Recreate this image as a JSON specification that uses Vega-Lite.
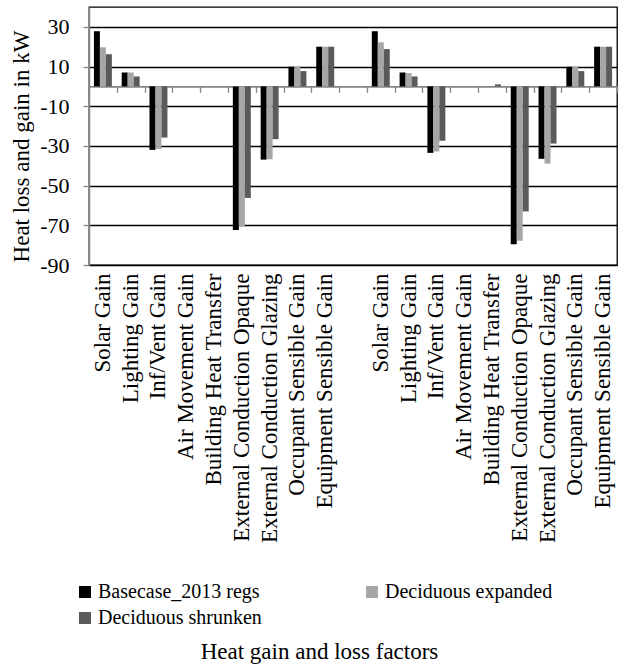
{
  "$schema": "https://vega.github.io/schema/vega-lite/v6.json",
  "autosize": {"type": "none"},
  "padding": {"left": 89, "top": 7, "right": 4, "bottom": 402},
  "width": 528,
  "height": 258,
  "background": "white",
  "config": {
    "font": "Times New Roman",
    "axis": {"labelFont": "Times New Roman", "titleFont": "Times New Roman"},
    "legend": {"labelFont": "Times New Roman", "titleFont": "Times New Roman"},
    "view": {"stroke": "black", "strokeWidth": 1.3}
  },
  "data": {
    "values": [
      {"slot": "a:Solar Gain", "series": "Basecase_2013 regs", "value": 27.8},
      {"slot": "a:Solar Gain", "series": "Deciduous expanded", "value": 19.7},
      {"slot": "a:Solar Gain", "series": "Deciduous shrunken", "value": 16.2},
      {"slot": "a:Lighting Gain", "series": "Basecase_2013 regs", "value": 7},
      {"slot": "a:Lighting Gain", "series": "Deciduous expanded", "value": 7},
      {"slot": "a:Lighting Gain", "series": "Deciduous shrunken", "value": 5},
      {"slot": "a:Inf/Vent Gain", "series": "Basecase_2013 regs", "value": -32},
      {"slot": "a:Inf/Vent Gain", "series": "Deciduous expanded", "value": -31.5},
      {"slot": "a:Inf/Vent Gain", "series": "Deciduous shrunken", "value": -25.8},
      {"slot": "a:Air Movement Gain", "series": "Basecase_2013 regs", "value": 0},
      {"slot": "a:Air Movement Gain", "series": "Deciduous expanded", "value": 0},
      {"slot": "a:Air Movement Gain", "series": "Deciduous shrunken", "value": 0},
      {"slot": "a:Building Heat Transfer", "series": "Basecase_2013 regs", "value": 0},
      {"slot": "a:Building Heat Transfer", "series": "Deciduous expanded", "value": 0},
      {"slot": "a:Building Heat Transfer", "series": "Deciduous shrunken", "value": 0},
      {"slot": "a:External Conduction Opaque", "series": "Basecase_2013 regs", "value": -72.4},
      {"slot": "a:External Conduction Opaque", "series": "Deciduous expanded", "value": -70.5},
      {"slot": "a:External Conduction Opaque", "series": "Deciduous shrunken", "value": -56.2},
      {"slot": "a:External Conduction Glazing", "series": "Basecase_2013 regs", "value": -36.9},
      {"slot": "a:External Conduction Glazing", "series": "Deciduous expanded", "value": -36.7},
      {"slot": "a:External Conduction Glazing", "series": "Deciduous shrunken", "value": -26.6},
      {"slot": "a:Occupant Sensible Gain", "series": "Basecase_2013 regs", "value": 9.9},
      {"slot": "a:Occupant Sensible Gain", "series": "Deciduous expanded", "value": 10},
      {"slot": "a:Occupant Sensible Gain", "series": "Deciduous shrunken", "value": 7.7},
      {"slot": "a:Equipment Sensible Gain", "series": "Basecase_2013 regs", "value": 20},
      {"slot": "a:Equipment Sensible Gain", "series": "Deciduous expanded", "value": 20},
      {"slot": "a:Equipment Sensible Gain", "series": "Deciduous shrunken", "value": 20},
      {"slot": "b:Solar Gain", "series": "Basecase_2013 regs", "value": 27.8},
      {"slot": "b:Solar Gain", "series": "Deciduous expanded", "value": 22.2},
      {"slot": "b:Solar Gain", "series": "Deciduous shrunken", "value": 18.8},
      {"slot": "b:Lighting Gain", "series": "Basecase_2013 regs", "value": 7},
      {"slot": "b:Lighting Gain", "series": "Deciduous expanded", "value": 6.7},
      {"slot": "b:Lighting Gain", "series": "Deciduous shrunken", "value": 5},
      {"slot": "b:Inf/Vent Gain", "series": "Basecase_2013 regs", "value": -33.5},
      {"slot": "b:Inf/Vent Gain", "series": "Deciduous expanded", "value": -32.8},
      {"slot": "b:Inf/Vent Gain", "series": "Deciduous shrunken", "value": -27.4},
      {"slot": "b:Air Movement Gain", "series": "Basecase_2013 regs", "value": 0},
      {"slot": "b:Air Movement Gain", "series": "Deciduous expanded", "value": 0},
      {"slot": "b:Air Movement Gain", "series": "Deciduous shrunken", "value": 0},
      {"slot": "b:Building Heat Transfer", "series": "Basecase_2013 regs", "value": 0},
      {"slot": "b:Building Heat Transfer", "series": "Deciduous expanded", "value": 0},
      {"slot": "b:Building Heat Transfer", "series": "Deciduous shrunken", "value": 1},
      {"slot": "b:External Conduction Opaque", "series": "Basecase_2013 regs", "value": -79.5},
      {"slot": "b:External Conduction Opaque", "series": "Deciduous expanded", "value": -77.8},
      {"slot": "b:External Conduction Opaque", "series": "Deciduous shrunken", "value": -63},
      {"slot": "b:External Conduction Glazing", "series": "Basecase_2013 regs", "value": -36.5},
      {"slot": "b:External Conduction Glazing", "series": "Deciduous expanded", "value": -38.9},
      {"slot": "b:External Conduction Glazing", "series": "Deciduous shrunken", "value": -28.8},
      {"slot": "b:Occupant Sensible Gain", "series": "Basecase_2013 regs", "value": 9.9},
      {"slot": "b:Occupant Sensible Gain", "series": "Deciduous expanded", "value": 10},
      {"slot": "b:Occupant Sensible Gain", "series": "Deciduous shrunken", "value": 7.7},
      {"slot": "b:Equipment Sensible Gain", "series": "Basecase_2013 regs", "value": 20},
      {"slot": "b:Equipment Sensible Gain", "series": "Deciduous expanded", "value": 20},
      {"slot": "b:Equipment Sensible Gain", "series": "Deciduous shrunken", "value": 20}
    ]
  },
  "resolve": {"axis": {"x": "independent"}},
  "layer": [
    {
      "mark": {"type": "bar"},
      "encoding": {
        "x": {
          "field": "slot",
          "type": "nominal",
          "sort": null,
          "scale": {
            "domain": ["a:Solar Gain", "a:Lighting Gain", "a:Inf/Vent Gain", "a:Air Movement Gain", "a:Building Heat Transfer", "a:External Conduction Opaque", "a:External Conduction Glazing", "a:Occupant Sensible Gain", "a:Equipment Sensible Gain", "gap:", "b:Solar Gain", "b:Lighting Gain", "b:Inf/Vent Gain", "b:Air Movement Gain", "b:Building Heat Transfer", "b:External Conduction Opaque", "b:External Conduction Glazing", "b:Occupant Sensible Gain", "b:Equipment Sensible Gain"],
            "paddingInner": 0,
            "paddingOuter": 0
          },
          "axis": {
            "orient": "bottom",
            "labelExpr": "split(datum.label, ':')[1]",
            "labelAngle": -90,
            "labelAlign": "right",
            "labelBaseline": "middle",
            "labelPadding": 8,
            "labelFontSize": 23,
            "labelColor": "black",
            "labelLimit": 500,
            "labelOverlap": false,
            "labelFlush": false,
            "ticks": false,
            "domain": false,
            "grid": false,
            "title": "Heat gain and loss factors",
            "titleFontSize": 23,
            "titleFontWeight": "normal",
            "titleColor": "black",
            "titleAlign": "center",
            "titleBaseline": "alphabetic",
            "titleX": 230,
            "titleY": 393
          }
        },
        "xOffset": {
          "field": "series",
          "type": "nominal",
          "scale": {
            "domain": ["Basecase_2013 regs", "Deciduous expanded", "Deciduous shrunken"],
            "paddingInner": 0,
            "paddingOuter": 0.82
          }
        },
        "y": {
          "field": "value",
          "type": "quantitative",
          "scale": {"domain": [-90, 40], "nice": false, "zero": false},
          "axis": {
            "values": [-90, -70, -50, -30, -10, 10, 30],
            "labelExpr": "datum.value + ''",
            "labelFontSize": 22,
            "labelColor": "black",
            "labelPadding": 14,
            "tickSize": 6,
            "tickColor": "#868686",
            "tickWidth": 1.3,
            "domainColor": "#868686",
            "domainWidth": 1.5,
            "grid": true,
            "gridColor": "black",
            "gridWidth": 1.3,
            "title": "Heat loss and gain in kW",
            "titleFontSize": 23,
            "titleFontWeight": "normal",
            "titleColor": "black",
            "titleBaseline": "middle",
            "titleAlign": "center",
            "titleX": -68,
            "titleY": 139
          }
        },
        "color": {
          "field": "series",
          "type": "nominal",
          "scale": {
            "domain": ["Basecase_2013 regs", "Deciduous expanded", "Deciduous shrunken"],
            "range": ["#000000", "#a6a6a6", "#5a5a5a"]
          },
          "legend": {
            "orient": "none",
            "direction": "horizontal",
            "legendX": -14,
            "legendY": 575,
            "title": null,
            "padding": 0,
            "columns": 2,
            "columnPadding": 100,
            "rowPadding": 6,
            "symbolType": "square",
            "symbolSize": 144,
            "symbolStrokeWidth": 0,
            "labelFontSize": 20,
            "labelColor": "black",
            "labelOffset": 3,
            "labelLimit": 400
          }
        }
      }
    },
    {
      "mark": {"type": "point", "opacity": 0},
      "encoding": {
        "x": {
          "field": "slot",
          "type": "nominal",
          "sort": null,
          "axis": {
            "orient": "bottom",
            "offset": -178.6,
            "labels": false,
            "title": null,
            "grid": false,
            "domainColor": "#868686",
            "domainWidth": 1.6,
            "tickColor": "#868686",
            "tickWidth": 1.3,
            "tickSize": 6,
            "tickBand": "extent"
          }
        },
        "y": {"field": "value", "type": "quantitative"}
      }
    }
  ]
}
